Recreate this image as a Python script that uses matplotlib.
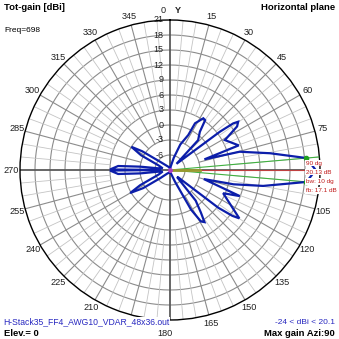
import numpy as np
import matplotlib
matplotlib.use("Agg")
import matplotlib.pyplot as plt

plt.rcParams["font.family"] = ["Liberation Sans", "DejaVu Sans"]

# Horizontal-plane total gain pattern (azimuth in degrees, gain in dBi)
azimuth = [0, 10, 17, 22, 27.6, 28.2, 32.8, 35.2, 38, 43.3, 46.5,
           52.5, 53.6, 54.7, 57, 61.4, 70.3, 72.8, 75.3, 80.5, 85, 90,
           95, 99.7, 102.7, 105.0, 110.5, 113.6, 124.9, 126.3, 128, 132,
           135, 140, 144, 146.5, 149, 152, 157, 165, 180,
           195, 215, 230, 236, 240, 243, 248, 258, 262, 263.5, 265.6, 269.5,
           269.8, 270.2, 270.5, 274.4, 276.4, 278, 283, 292, 297, 301, 304,
           310, 330, 350, 360]
gain = [-8.6, -8.4, -6.5, -3.5, -1.1, 1.6, 3.3, 3.2, 0.7, -0.8, -7.2,
        3.6, 6.7, 7.7, 7.0, 3.5, 5.6, -1.8, 5.4, 11.3, 18.4, 20.13,
        18.4, 9.9, 4.0, -2.0, 5.9, 2.6, 7.9, 6.5, 3.3, -6.8,
        -7.0, -1.0, 1.5, 3.5, 3.0, 0.0, -6.5, -8.3, -8.6,
        -8.4, -8.2, -6.5, -2.5, 0.2, -2.3, -6.5, -7.5, -6.5, -3.0, 1.4, 3.0,
        -7.0, -7.0, 3.0, 1.4, -3.0, -6.5, -7.5, -6.5, -2.5, 0.0, -2.3,
        -6.5, -8.2, -8.5, -8.6]

ring_values = [21, 18, 15, 12, 9, 6, 3, 0, -3, -6]
angle_labels = [15, 30, 45, 60, 75, 105, 120, 135, 150, 165, 180,
                195, 210, 225, 240, 255, 270, 285, 300, 315, 330, 345]

max_azi = 90
max_gain = 20.13
beamwidth = 10
front_back = 17.1
bw_edge_gain = 18.4
r_min, r_max = -9, 21

fig = plt.figure(figsize=(3.39, 3.39), dpi=100)
fig.patch.set_facecolor("white")
ax = fig.add_axes([20 / 339, 19 / 339, 300 / 339, 300 / 339], projection="polar")
ax.set_theta_zero_location("N")
ax.set_theta_direction(-1)
ax.set_rlim(r_min, r_max)
ax.set_xticks([])
ax.set_yticks([])
ax.grid(False)
ax.spines["polar"].set_color("black")
ax.spines["polar"].set_linewidth(1.0)

full = np.linspace(0, 2 * np.pi, 361)
for rv in ring_values[1:]:
    ax.plot(full, np.full_like(full, rv), color="#8c8c8c", lw=0.8, zorder=1)

# minor radials every 5 degrees, major every 15, main axes darker
for a in range(0, 360, 5):
    t = np.deg2rad(a)
    if a % 90 == 0:
        ax.plot([t, t], [r_min, r_max], color="#5a5a5a", lw=1.3, zorder=2)
    elif a % 15 == 0:
        ax.plot([t, t], [-3, r_max], color="#8c8c8c", lw=0.8, zorder=1)
    else:
        ax.plot([t, t], [3, r_max], color="#c4c4c4", lw=0.6, zorder=1)

# ring labels along the 0 degree axis
for rv in ring_values:
    ax.annotate(str(rv), xy=(0, rv), xytext=(-4.5, 0), textcoords="offset points",
                ha="right", va="center", fontsize=6.5, color="#202020", zorder=3,
                annotation_clip=False)

# azimuth labels
for a in angle_labels:
    ang, rr = (181.8, 23.8) if a == 180 else (a, 22.7)
    ax.text(np.deg2rad(ang), rr, str(a), ha="center", va="center",
            fontsize=6.6, color="#202020", clip_on=False)
ax.text(np.deg2rad(-2.3), 23.0, "0", ha="center", va="center", fontsize=6.6,
        color="#202020", clip_on=False)
ax.text(np.deg2rad(2.7), 23.0, "Y", ha="center", va="center", fontsize=6.6,
        color="#202020", fontweight="bold", clip_on=False)

# beamwidth and max gain markers
t_max = np.deg2rad(max_azi)
t_lo = np.deg2rad(max_azi - beamwidth / 2)
t_hi = np.deg2rad(max_azi + beamwidth / 2)
ax.plot([t_lo, t_lo], [r_min, r_max], color="#40b040", lw=0.8, zorder=4)
ax.plot([t_hi, t_hi], [r_min, r_max], color="#40b040", lw=0.8, zorder=4)
ax.plot([t_max, t_max], [r_min, r_max], color="#c04040", lw=0.8, zorder=4)
ax.plot([t_max, t_max], [r_min, -3], color="#9a9a30", lw=2.0, zorder=4)

# pattern
theta = np.deg2rad(azimuth)
ax.plot(theta, gain, color="#0c1eaa", lw=1.6, zorder=5, solid_joinstyle="miter")
ax.plot([t_lo, t_hi], [bw_edge_gain, bw_edge_gain], ls="none", marker="o",
        ms=3, color="#20a020", zorder=6)
ax.plot([0], [r_min], marker="o", ms=2.5, color="#b040c0", zorder=6)

# annotation box near the main lobe
red = "#c01818"
ann = [f"{max_azi} dg", f"{max_gain:.2f} dB", f"bw: {beamwidth} dg", f"fb: {front_back} dB"]
ys = [163, 172, 181.5, 190.5]
for s, y in zip(ann, ys):
    fig.text(306 / 339, 1 - y / 339, s, ha="left", va="center", fontsize=4.6,
             color=red, zorder=10,
             bbox=dict(boxstyle="square,pad=0.1", fc="white", ec="none"))

# header and footer texts
fig.text(4 / 339, 1 - 8 / 339, "Tot-gain [dBi]", ha="left", va="center",
         fontsize=6.8, fontweight="bold")
fig.text(335 / 339, 1 - 8 / 339, "Horizontal plane", ha="right", va="center",
         fontsize=6.8, fontweight="bold")
fig.text(4 / 339, 1 - 31 / 339, "Freq=698", ha="left", va="center", fontsize=6.0)
fig.text(3 / 339, 1 - 322 / 339, "H-Stack35_FF4_AWG10_VDAR_48x36.out", ha="left",
         va="center", fontsize=6.2, color="#2828c0", zorder=10,
         bbox=dict(boxstyle="square,pad=0.1", fc="white", ec="none"))
fig.text(4 / 339, 1 - 333 / 339, "Elev.= 0", ha="left", va="center",
         fontsize=6.8, fontweight="bold")
fig.text(335 / 339, 1 - 322 / 339, "-24 < dBi < 20.1", ha="right", va="center",
         fontsize=6.0, color="#2828c0")
fig.text(335 / 339, 1 - 333 / 339, "Max gain Azi:90", ha="right", va="center",
         fontsize=6.8, fontweight="bold")

fig.savefig("out.png", dpi=100, facecolor="white")
